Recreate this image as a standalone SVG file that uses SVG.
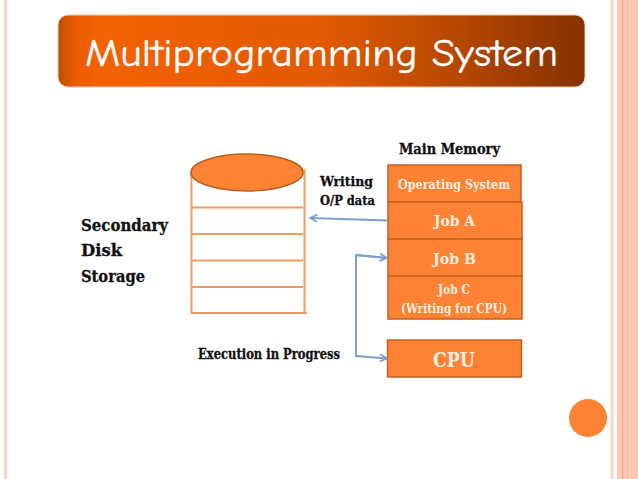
<svg xmlns="http://www.w3.org/2000/svg" width="638" height="479" viewBox="0 0 638 479">
<style>
.t{font-family:"DejaVu Serif","Liberation Serif",serif;font-weight:bold;fill:#111;stroke:#111;stroke-width:.3}
.w{font-family:"DejaVu Serif","Liberation Serif",serif;font-weight:bold;fill:#fdeee2}
.box{fill:#fd8233;stroke:#c4621f;stroke-width:1.5}
.disk{stroke:#f09a63;stroke-width:2;fill:none}
.conn{stroke:#7f9fd0;stroke-width:2;fill:none}
</style>
<defs>
<linearGradient id="g" x1="0" x2="1" y1="0" y2="0">
<stop offset="0" stop-color="#b84d04"/><stop offset=".03" stop-color="#e85c02"/><stop offset=".08" stop-color="#f46203"/><stop offset=".5" stop-color="#e25a02"/><stop offset=".75" stop-color="#b84800"/><stop offset="1" stop-color="#853200"/>
</linearGradient>
<marker id="a" viewBox="0 0 10 10" refX="9" refY="5" markerWidth="9" markerHeight="9" markerUnits="userSpaceOnUse" orient="auto"><path d="M1 1L9 5L1 9" fill="none" stroke="#7f9fd0" stroke-width="2"/></marker>
</defs>
<rect width="638" height="479" fill="#fff"/>
<g id="stripes">
<rect x="4" y="0" width="3" height="479" fill="#f8d3c8"/>
<rect x="610.500" y="0" width="3" height="479" fill="#f9d2c5"/>
<rect x="617" y="0" width="21" height="479" fill="#fdc7b4"/>
<rect x="622" y="0" width="1" height="479" fill="#ee9c7c"/>
<rect x="627" y="0" width="1" height="479" fill="#f8b8a2"/>
</g>
<g id="title">
<rect x="58" y="15" width="527" height="72" rx="10" fill="url(#g)" stroke="#f3c7ae" stroke-width="1"/>
<text x="85" y="66" font-family="'Comic Neue','DejaVu Sans',sans-serif" font-size="39" fill="#fff" stroke="#fff" stroke-width=".35" textLength="473" lengthAdjust="spacingAndGlyphs">Multiprogramming System</text>
</g>
<g id="disk">
<path class="disk" d="M191.500 172V313M304.500 169V313M191 207.500H303M191 234H303M191 260.500H303M191 287H303M191 313H307"/>
<ellipse cx="247" cy="172.500" rx="56" ry="18.500" fill="#fd8233" stroke="#b5601f" stroke-width="1.500"/>
</g>
<g id="disk-label">
<text class="t" font-size="17" x="81" y="231" textLength="87" lengthAdjust="spacingAndGlyphs">Secondary</text>
<text class="t" font-size="17" x="81" y="256" textLength="41" lengthAdjust="spacingAndGlyphs">Disk</text>
<text class="t" font-size="17" x="81" y="282" textLength="64" lengthAdjust="spacingAndGlyphs">Storage</text>
</g>
<g id="main-memory-label"><text class="t" x="399" y="154" font-size="14.500" textLength="101" lengthAdjust="spacingAndGlyphs">Main Memory</text></g>
<g id="writing-label">
<text class="t" font-size="13" x="320" y="186" textLength="53" lengthAdjust="spacingAndGlyphs">Writing</text>
<text class="t" font-size="13" x="320" y="205" textLength="55" lengthAdjust="spacingAndGlyphs">O/P data</text>
</g>
<g id="execution-label"><text class="t" x="198" y="359" font-size="14" textLength="142" lengthAdjust="spacingAndGlyphs">Execution in Progress</text></g>
<g id="os"><rect class="box" x="388" y="165" width="133" height="37"/><text class="w" x="398" y="189" font-size="13.500" textLength="112" lengthAdjust="spacingAndGlyphs">Operating System</text></g>
<g id="job-a"><rect class="box" x="388" y="202" width="134" height="37"/><text class="w" x="434" y="226" font-size="15" textLength="41" lengthAdjust="spacingAndGlyphs">Job A</text></g>
<g id="job-b"><rect class="box" x="388" y="239" width="134" height="37"/><text class="w" x="433" y="264" font-size="15" textLength="43" lengthAdjust="spacingAndGlyphs">Job B</text></g>
<g id="job-c"><rect class="box" x="388" y="276" width="134" height="43"/>
<text class="w" font-size="12" x="438" y="294" textLength="32" lengthAdjust="spacingAndGlyphs">Job C</text>
<text class="w" font-size="12.500" x="401" y="313" textLength="106" lengthAdjust="spacingAndGlyphs">(Writing for CPU)</text></g>
<g id="cpu"><rect class="box" x="387.500" y="340" width="134" height="37"/><text class="w" x="433" y="367" font-size="20" textLength="42" lengthAdjust="spacingAndGlyphs">CPU</text></g>
<g id="connectors">
<path class="conn" d="M388 220.500L310 218" marker-end="url(#a)"/>
<path class="conn" d="M387 258L356 255V356L387 358.500" marker-end="url(#a)"/>
<path class="conn" d="M356 255L387 258" marker-end="url(#a)"/>
</g>
<g id="dot"><circle cx="588" cy="418" r="19" fill="#fd8233"/></g>
</svg>
